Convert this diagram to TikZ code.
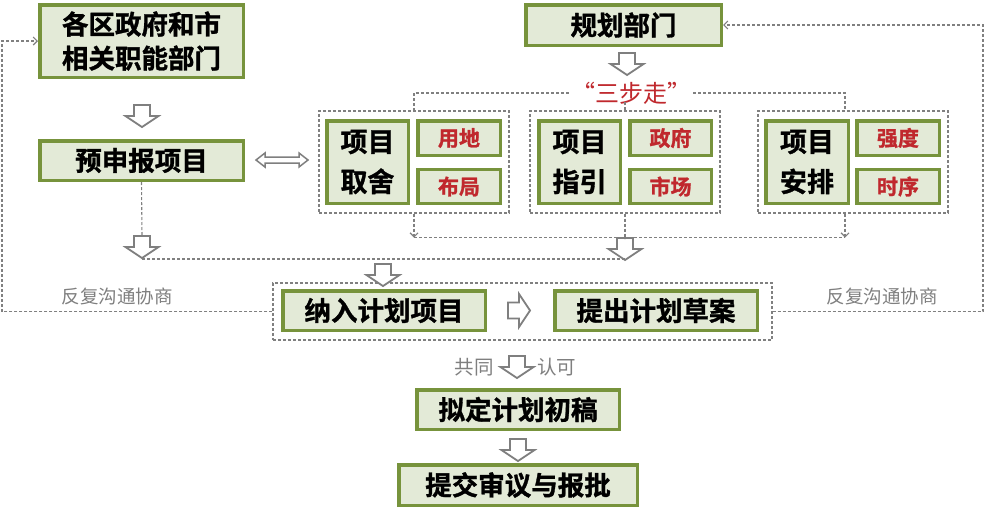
\documentclass[tikz,border=0pt]{standalone}
\usepackage{fontspec}
\setmainfont{Noto Sans CJK SC}[BoldFont={Noto Sans CJK SC Bold}, BoldFeatures={FakeBold=1.2}]
\usetikzlibrary{arrows.meta,calc}
\definecolor{bgreen}{HTML}{77933C}
\definecolor{bfill}{HTML}{E3EAD7}
\definecolor{tred}{HTML}{C0282D}
\definecolor{dgray}{HTML}{808080}
\definecolor{tgray}{HTML}{7F7F7F}
\definecolor{agray}{HTML}{7F7F7F}
\tikzset{
  gbox/.style={draw=bgreen, line width=3.5pt, fill=bfill, inner sep=0pt, align=center,
    font=\bfseries\fontsize{26.5}{34}\selectfont},
  gbigbox/.style={gbox, font=\bfseries\fontsize{27}{40}\selectfont},
  rbox/.style={gbox, text=tred, font=\bfseries\fontsize{21}{24}\selectfont},
  grp/.style={draw=dgray, line width=1.1pt, dash pattern=on 3pt off 2pt, inner sep=0pt,
    minimum width=190pt, minimum height=102pt},
  dline/.style={draw=dgray, line width=1.1pt, dash pattern=on 3pt off 2pt},
  dtip/.style={-{Straight Barb[length=4pt,width=8pt]}},
  gtext/.style={text=tgray, font=\fontsize{18.5}{20}\selectfont, inner sep=0pt},
  pics/barrow/.style={code={
    \draw[draw=agray, line width=1.8pt, fill=white, line join=miter]
      (-8,0) -- (8,0) -- (8,11) -- (16.5,11) -- (0,22) -- (-16.5,11) -- (-8,11) -- cycle;}},
}
\begin{document}
\begin{tikzpicture}[x=1pt,y=-1pt]
\useasboundingbox[fill=white] (0,0) rectangle (985,517);

% top-left column
\node[gbox, minimum width=203.5pt, minimum height=72.5pt] (A) at (141.5,41) {各区政府和市\\相关职能部门};
\node[gbox, minimum width=203.5pt, minimum height=39.5pt] (B) at (141.5,160.5) {预申报项目};
\node[gbox, minimum width=195.5pt, minimum height=40.5pt] (C) at (623.5,25) {规划部门};

% three groups
\node[grp] (G1) at (414,162) {};
\node[grp] (G2) at (625,162) {};
\node[grp] (G3) at (853,162) {};

\node[gbigbox, minimum width=81.5pt, minimum height=82.5pt] (P1) at (367.5,162) {项目\\取舍};
\node[rbox, minimum width=82.5pt, minimum height=34.5pt] (P1a) at (459,138) {用地};
\node[rbox, minimum width=82.5pt, minimum height=34pt] (P1b) at (459,186.5) {布局};

\node[gbigbox, minimum width=81.5pt, minimum height=82.5pt] (P2) at (579.5,162) {项目\\指引};
\node[rbox, minimum width=81.5pt, minimum height=34.5pt] (P2a) at (670.5,138) {政府};
\node[rbox, minimum width=81.5pt, minimum height=34pt] (P2b) at (670.5,186.5) {市场};

\node[gbigbox, minimum width=82.5pt, minimum height=82.5pt] (P3) at (807,162) {项目\\安排};
\node[rbox, minimum width=82.5pt, minimum height=34.5pt] (P3a) at (898,138) {强度};
\node[rbox, minimum width=82.5pt, minimum height=34pt] (P3b) at (898,186.5) {时序};

% three steps label
\node[text=tred, font=\fontsize{24}{26}\selectfont, inner sep=2pt] (Q) at (631,93) {“三步走”};

% big dashed frame and its boxes
\node[draw=dgray, line width=1.1pt, dash pattern=on 3pt off 2pt, inner sep=0pt,
  minimum width=499pt, minimum height=57pt] (big) at (522.5,311.5) {};
\node[gbox, minimum width=202.5pt, minimum height=39.5pt] (N1) at (384,310.5) {纳入计划项目};
\node[gbox, minimum width=202.5pt, minimum height=39.5pt] (N2) at (656,310.5) {提出计划草案};

\node[gbox, minimum width=202.5pt, minimum height=39.5pt] (D) at (518,409.5) {拟定计划初稿};
\node[gbox, minimum width=238.5pt, minimum height=40.5pt] (E) at (518,485) {提交审议与报批};

% grey labels
\node[gtext] (L1) at (117,296) {反复沟通协商};
\node[gtext] (L2) at (882,296) {反复沟通协商};
\node[gtext, font=\fontsize{19.5}{20}\selectfont, anchor=east] (T1) at (494,367) {共同};
\node[gtext, font=\fontsize{19.5}{20}\selectfont, anchor=west] (T2) at (537,367) {认可};

% hollow block arrows
\pic at (142,105) {barrow};
\pic at (627,53) {barrow};
\pic at (142,236) {barrow};
\pic at (625,238) {barrow};
\pic at (383,264) {barrow};
\pic[rotate=90] at (508,310.5) {barrow};
\pic at (517,356) {barrow};
\pic at (518,439) {barrow};

% double arrow between B and group 1
\draw[draw=agray, line width=1.5pt, fill=white, line join=miter]
  (256,160) -- (265,153) -- (265,157) -- (299,157) -- (299,153) -- (308,160)
  -- (299,167) -- (299,163) -- (265,163) -- (265,167) -- cycle;

% dashed connectors: three steps bracket
\draw[dline] (Q.west) -| (G1.north);
\draw[dline] (Q.east) -| ($(G3.north)+(-8,0)$);
\draw[dline] (G2.north) -- ++(0,-8);

% below groups
\coordinate (g3s) at ($(G3.south)+(-8,0)$);
\draw[dline,dtip] (G1.south) -- ++(0,24);
\draw[dline,dtip] (g3s) -- ++(0,24);
\draw[dline] ($(G1.south)+(0,24)$) -- ($(g3s)+(0,24)$);
\draw[dline] (G2.south) -- ++(0,25);

% from B down and joining line
\draw[dline] (B.south) -- (142,236);
\draw[dline] (142,259) -- (625,259);

% feedback loops
\draw[dline,dtip] (big.west) -- (2,311.5) |- (A.west);
\draw[dline,dtip] (big.east) -- (983,311.5) |- (C.east);
\end{tikzpicture}
\end{document}
